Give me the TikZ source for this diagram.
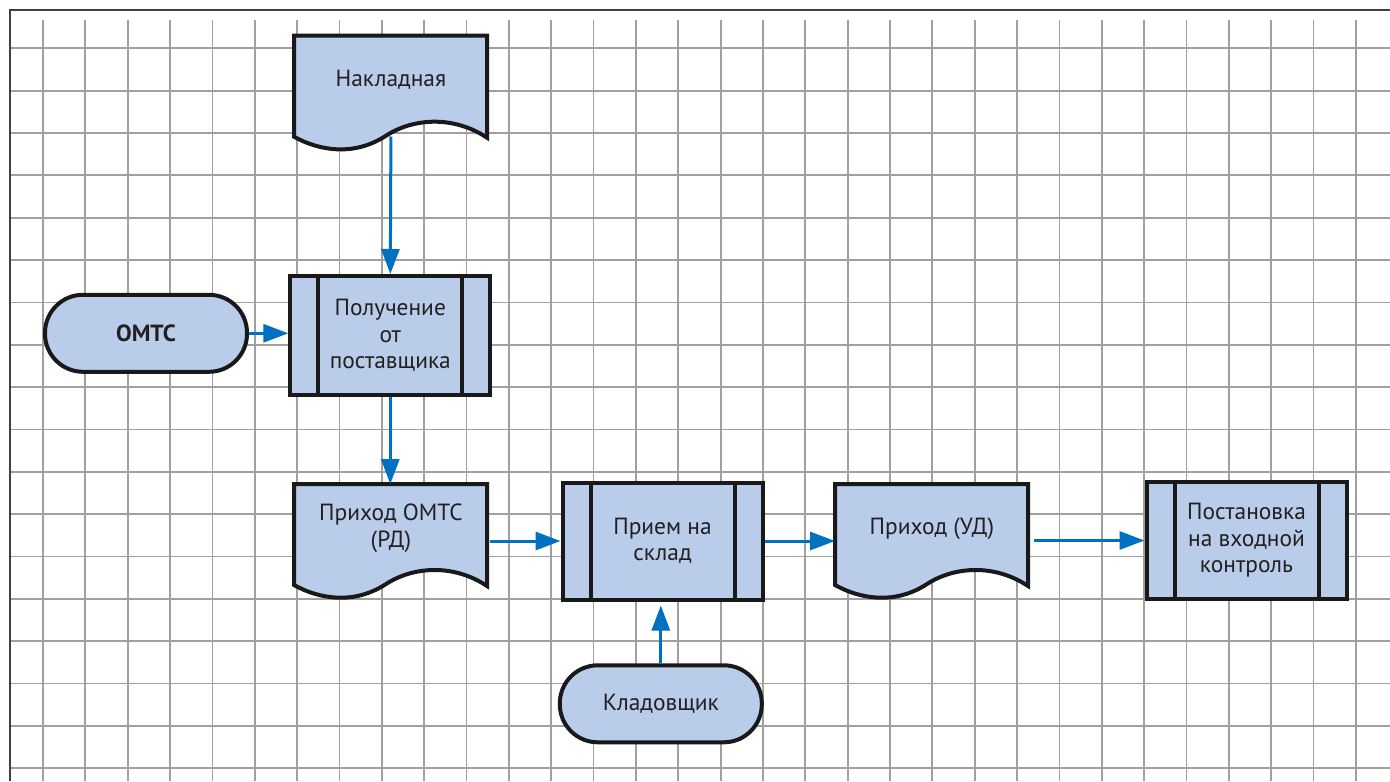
\documentclass[tikz,border=0pt]{standalone}
\usepackage{fontspec}
\setmainfont{PT Sans}
\usetikzlibrary{arrows.meta,calc}
\definecolor{boxfill}{HTML}{B9CDEA}
\definecolor{arrowblue}{HTML}{0070C0}
\definecolor{gridgray}{HTML}{A0A0A0}
\definecolor{txt}{HTML}{231F20}
\newcommand\docshape[2]{%
  \begin{scope}[shift={(#1,#2)}]
    \filldraw[docline] (0,0) -- (193,0) -- (193,102)
      .. controls (160,80) and (120,82) .. (92,100)
      .. controls (60,121) and (25,115) .. (0,101) -- cycle;
  \end{scope}}
\begin{document}
\begin{tikzpicture}[x=0.5pt,y=-0.5pt,
  lbl/.style={font=\fontsize{11.7}{13.25}\selectfont, text=txt, align=center},
  terminal/.style={lbl, draw=black!90, line width=2pt, fill=boxfill, rounded corners=19pt,
     minimum width=101pt, minimum height=38.5pt, inner sep=0pt},
  process/.style={lbl, draw=black!90, line width=2pt, fill=boxfill,
     minimum width=100pt, minimum height=58.5pt, inner sep=0pt,
     path picture={\draw[black!90, line width=2pt]
        ([xshift=14pt]path picture bounding box.north west) -- ([xshift=14pt]path picture bounding box.south west)
        ([xshift=-14pt]path picture bounding box.north east) -- ([xshift=-14pt]path picture bounding box.south east);}},
  doctext/.style={lbl, minimum width=96.5pt, minimum height=44pt, inner sep=0pt},
  docline/.style={draw=black!90, line width=2pt, fill=boxfill},
  flow/.style={draw=arrowblue, line width=1.5pt, -{Triangle[length=12.5pt,width=9pt]}},
  gridline/.style={draw=gridgray, line width=0.9pt}]
\useasboundingbox (0,0) rectangle (1390,781);
\fill[white] (0,0) rectangle (1390,781);
% grid
\foreach \i in {0,...,31} \draw[gridline] ({43+42.35*\i},20) -- ({43+42.35*\i},781);
\foreach \j in {0,...,17} \draw[gridline] (10,{48.3+42.35*\j}) -- (1390,{48.3+42.35*\j});
\draw[line width=0.75pt, draw=black!75] (10,781) -- (10,10) -- (1390,10);
% document shapes
\docshape{294}{35.7}
\docshape{294}{484}
\docshape{835}{484}
% nodes
\node[doctext, anchor=north west] (nakl) at (294,35.7) {Накладная};
\node[process, minimum height=59.5pt] (polu) at (390.3,335.5) {Получение\\от\\поставщика};
\node[terminal, font=\fontsize{11.7}{13.25}\selectfont\bfseries] (omts) at (146,333.3) {ОМТС};
\node[doctext, anchor=north west] (prih1) at (294,484) {Приход ОМТС\\(РД)};
\node[process] (priem) at (662.5,541) {Прием на\\склад};
\node[doctext, anchor=north west] (prih2) at (835,484) {Приход (УД)};
\node[process] (post) at (1246.5,540.5) {Постановка\\на входной\\контроль};
\node[terminal] (klad) at (660.8,703.8) {Кладовщик};
% connectors
\draw[flow] ([yshift=-6pt]nakl.south) -- (polu.north);
\draw[flow] (omts.east) -- (omts.east -| polu.west);
\draw[flow] (polu.south) -- (polu.south |- prih1.north);
\draw[flow] ([xshift=1pt]prih1.east |- priem.west) -- (priem.west);
\draw[flow] (priem.east) -- (prih2.west |- priem.east);
\draw[flow] ([xshift=2.5pt]prih2.east |- post.west) -- (post.west);
\draw[flow, shorten >=2pt] (klad.north) -- (klad.north |- priem.south);
\end{tikzpicture}
\end{document}
